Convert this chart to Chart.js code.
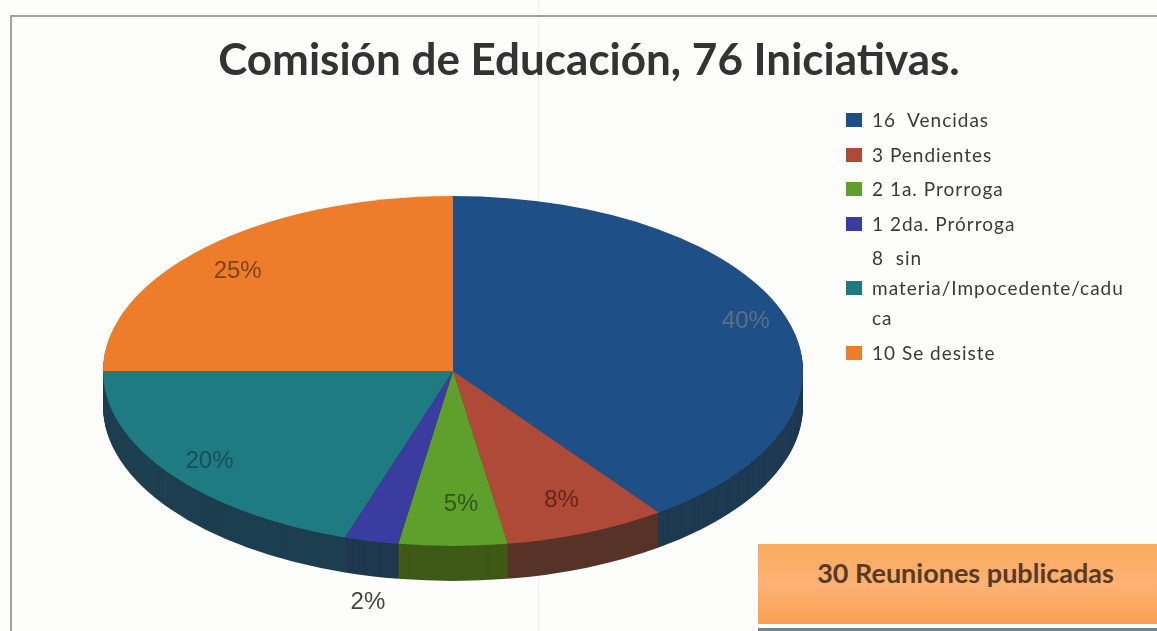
<!DOCTYPE html>
<html lang="es">
<head>
<meta charset="utf-8">
<title>Comisión de Educación</title>
<script src="https://cdn.jsdelivr.net/npm/chart.js@4"></script>
<style>
  html, body { margin: 0; padding: 0; background: #fdfdfc; overflow: hidden; }
  #page { position: relative; width: 1157px; height: 631px; overflow: hidden; font-family: Lato, sans-serif; }
  #page canvas { position: absolute; left: 0; top: 0; }
  #frame { position: absolute; left: 10px; top: 15px; width: 1160px; height: 620px; border: 2px solid #a2a2a2; box-sizing: border-box; }
  #fold { position: absolute; left: 538px; top: 0; width: 1px; height: 631px; background: #f1f1ef; }
  #base { position: absolute; left: 758px; top: 628px; width: 399px; height: 3px; background: #6f8593; }
  #titulo { position: absolute; left: 0; top: 30px; width: 1178px; margin: 0; text-align: center; font-size: 44px; line-height: 56px; font-weight: 700; color: #333; }
  #leyenda { position: absolute; left: 846px; top: 105px; width: 311px; margin: 0; padding: 0; list-style: none; font-size: 19px; letter-spacing: 1px; line-height: 30px; color: #3a3a3a; }
  #leyenda li { display: flex; align-items: center; margin-bottom: 4.5px; }
  #leyenda .caja { flex: none; width: 16px; height: 14px; margin-right: 10px; }
  #leyenda .texto { white-space: pre; }
  #nota { position: absolute; left: 758px; top: 544px; width: 399px; height: 80px; line-height: 58px; text-align: center; padding-left: 16px; box-sizing: border-box;
          background: linear-gradient(#f9ab5e, #fdb274 50%, #f8a052); font-size: 27px; font-weight: 700; color: #5a3a22; }
</style>
</head>
<body>
<div id="page">
  <div id="fold"></div>
  <div id="frame"></div>
  <div id="base"></div>
  <canvas id="grafica" width="1157" height="631"></canvas>
  <h1 id="titulo">Comisión de Educación, 76 Iniciativas.</h1>
  <ul id="leyenda"></ul>
  <div id="nota">30 Reuniones publicadas</div>
</div>
<script>
const categorias = ['16  Vencidas', '3 Pendientes', '2 1a. Prorroga', '1 2da. Prórroga', '8  sin\nmateria/Impocedente/cadu\nca', '10 Se desiste'];
const valores = [16, 3, 2, 1, 8, 10];
const porcentajes = ['40%', '8%', '5%', '2%', '20%', '25%'];
const colores = ['#1f4f87', '#b04a38', '#5f9f2c', '#3a3d9f', '#1f7b82', '#ee7d2b'];
const coloresLado = ['#1d3a52', '#573328', '#3f5a17', '#20384f', '#1d3f50', '#a85a20'];
const coloresTexto = ['#5d6f83', '#6b2418', '#2f5a14', '#444444', '#1a4f58', '#7d4315'];

// la pastel se estira a lo ancho para que parezca inclinada
const ESTIRAR_X = 2;
const GROSOR = 35;

const pastel3d = {
    id: 'pastel3d',
    beforeDatasetsDraw(chart) {
        const ctx = chart.ctx;
        const arcos = chart.getDatasetMeta(0).data;
        const cx = arcos[0].x;
        ctx.save();
        ctx.translate(cx, 0);
        ctx.scale(ESTIRAR_X, 1);
        ctx.translate(-cx, 0);

        // primero el costado: las mismas rebanadas, oscuras y hacia abajo
        for (let d = GROSOR; d > 0; d--) {
            ctx.save();
            ctx.translate(0, d);
            arcos.forEach((arco, i) => {
                const original = arco.options;
                arco.options = Object.create(original);
                arco.options.backgroundColor = coloresLado[i];
                arco.draw(ctx);
                arco.options = original;
            });
            ctx.restore();
        }
    },
    afterDatasetsDraw(chart, args, opts) {
        const ctx = chart.ctx;
        ctx.restore();

        ctx.save();
        ctx.font = '24px "Liberation Sans"';
        ctx.textAlign = 'center';
        ctx.textBaseline = 'middle';
        chart.getDatasetMeta(0).data.forEach((arco, i) => {
            const medio = (arco.startAngle + arco.endAngle) / 2;
            const r = arco.outerRadius * opts.radios[i];
            const x = arco.x + Math.cos(medio) * r * ESTIRAR_X + opts.ajusteX[i];
            const y = arco.y + Math.sin(medio) * r + opts.ajusteY[i];
            ctx.fillStyle = coloresTexto[i];
            ctx.fillText(porcentajes[i], x, y);
        });
        ctx.restore();
    }
};

const leyendaHtml = {
    id: 'leyendaHtml',
    afterUpdate(chart) {
        const lista = document.getElementById('leyenda');
        lista.innerHTML = '';
        chart.options.plugins.legend.labels.generateLabels(chart).forEach(item => {
            const li = document.createElement('li');
            const caja = document.createElement('span');
            caja.className = 'caja';
            caja.style.background = item.fillStyle;
            const texto = document.createElement('span');
            texto.className = 'texto';
            texto.textContent = item.text;
            li.append(caja, texto);
            lista.appendChild(li);
        });
    }
};

new Chart(document.getElementById('grafica'), {
    type: 'pie',
    data: {
        labels: categorias,
        datasets: [{ data: valores, backgroundColor: colores, borderWidth: 0 }]
    },
    options: {
        responsive: false,
        animation: false,
        layout: { padding: { left: 103, right: 354, top: 196, bottom: 85 } },
        plugins: {
            legend: { display: false, labels: { generateLabels: Chart.overrides.pie.plugins.legend.labels.generateLabels } },
            tooltip: { enabled: false },
            pastel3d: {
                radios: [0.88, 0.81, 0.76, 1.31, 0.86, 0.87],
                ajusteX: [0, 0, 8, 22, 0, 0],
                ajusteY: [-2, -2, 0, 8, 2, 8]
            }
        }
    },
    plugins: [pastel3d, leyendaHtml]
});
</script>
</body>
</html>
